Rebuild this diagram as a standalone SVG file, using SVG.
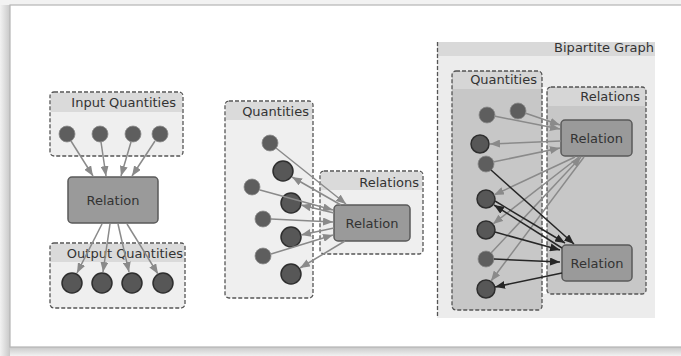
<svg xmlns="http://www.w3.org/2000/svg" width="681" height="356" viewBox="0 0 681 356">
<defs>
<style>
.lbl{font-family:"DejaVu Sans",sans-serif;font-size:13px;fill:#333}
.hdr{text-anchor:end}
.rel{text-anchor:middle}
.box{fill:#efefef;stroke:#555;stroke-width:1.3;stroke-dasharray:4 2}
.band{fill:#dadada}
.box3{fill:#c7c7c7;stroke:#555;stroke-width:1.3;stroke-dasharray:4 2}
.band3{fill:#d6d6d6}
.node{fill:#9a9a9a;stroke:#5a5a5a;stroke-width:1.5}
.qin{fill:#5e5e5e;stroke:#8a8a8a;stroke-width:0.8}
.qout{fill:#575757;stroke:#2e2e2e;stroke-width:1.5}
.ag{stroke:#8a8a8a;stroke-width:1.5;fill:none;marker-end:url(#mg)}
.ab{stroke:#262626;stroke-width:1.5;fill:none;marker-end:url(#mb)}
</style>
<marker id="mg" markerUnits="userSpaceOnUse" markerWidth="10" markerHeight="8" refX="10" refY="4" orient="auto"><path d="M0,0 L10,4 L0,8 Z" fill="#8a8a8a"/></marker>
<marker id="mb" markerUnits="userSpaceOnUse" markerWidth="10" markerHeight="8" refX="10" refY="4" orient="auto"><path d="M0,0 L10,4 L0,8 Z" fill="#262626"/></marker>
<linearGradient id="shb" x1="0" y1="0" x2="0" y2="1"><stop offset="0" stop-color="#c8c8c8"/><stop offset="1" stop-color="#f2f2f2"/></linearGradient>
<linearGradient id="shl" x1="1" y1="0" x2="0" y2="0"><stop offset="0" stop-color="#c8c8c8"/><stop offset="1" stop-color="#f2f2f2"/></linearGradient>
<clipPath id="bgclip"><rect x="437" y="42" width="218" height="276"/></clipPath>
</defs>

<!-- page & card -->
<rect x="0" y="0" width="681" height="356" fill="#f2f2f2"/>
<rect x="0" y="5" width="10" height="351" fill="url(#shl)"/>
<rect x="10" y="347" width="671" height="9" fill="url(#shb)"/>
<rect x="10" y="5" width="680" height="342" fill="#ffffff" stroke="#b5b5b5" stroke-width="1.2"/>

<!-- Panel 1 -->
<g id="input-quantities">
<rect class="box" x="50" y="92" width="133" height="64" rx="4"/>
<path class="band" d="M51,112 V96 Q51,93 54,93 H179 Q182,93 182,96 V112 Z"/>
<text class="lbl hdr" x="176" y="107">Input Quantities</text>
<circle class="qin" cx="67" cy="134" r="8"/>
<circle class="qin" cx="100" cy="134" r="8"/>
<circle class="qin" cx="133" cy="134" r="8"/>
<circle class="qin" cx="160" cy="134" r="8"/>
</g>
<g id="relation-1">
<rect class="node" x="68" y="177" width="90" height="46" rx="4"/>
<text class="lbl rel" x="113" y="204.5">Relation</text>
</g>
<g id="output-quantities">
<rect class="box" x="50" y="243" width="135" height="65" rx="4"/>
<path class="band" d="M51,262 V247 Q51,244 54,244 H181 Q184,244 184,247 V262 Z"/>
<text class="lbl hdr" x="183" y="258">Output Quantities</text>
<circle class="qout" cx="72" cy="283" r="10"/>
<circle class="qout" cx="102" cy="283" r="10"/>
<circle class="qout" cx="132" cy="283" r="10"/>
<circle class="qout" cx="163" cy="283" r="10"/>
</g>

<!-- Panel 2 -->
<g id="quantities-2">
<rect class="box" x="225" y="101" width="88" height="197" rx="4"/>
<path class="band" d="M226,120 V105 Q226,102 229,102 H309 Q312,102 312,105 V120 Z"/>
<text class="lbl hdr" x="309" y="116">Quantities</text>
<circle class="qin" cx="270" cy="143" r="8"/>
<circle class="qout" cx="283" cy="171" r="10"/>
<circle class="qin" cx="252" cy="187" r="8"/>
<circle class="qout" cx="291" cy="203" r="10"/>
<circle class="qin" cx="263" cy="219" r="8"/>
<circle class="qout" cx="291" cy="237" r="10"/>
<circle class="qin" cx="263" cy="256" r="8"/>
<circle class="qout" cx="291" cy="274" r="10"/>
</g>
<g id="relations-2">
<rect class="box" x="320" y="171" width="103" height="83" rx="4"/>
<path class="band" d="M321,190 V175 Q321,172 324,172 H419 Q422,172 422,175 V190 Z"/>
<text class="lbl hdr" x="419" y="187">Relations</text>
<rect class="node" x="334" y="205" width="76" height="36" rx="4"/>
<text class="lbl rel" x="372" y="227.5">Relation</text>
</g>

<!-- Panel 3 -->
<g id="bipartite-graph">
<rect x="437" y="42" width="218" height="276" fill="#ececec"/>
<rect x="437" y="42" width="218" height="14" fill="#d9d9d9"/>
<line x1="437.5" y1="42" x2="437.5" y2="318" stroke="#555" stroke-width="1.3" stroke-dasharray="4 2"/>
<text class="lbl hdr" x="654" y="52" clip-path="url(#bgclip)">Bipartite Graph</text>
</g>
<g id="quantities-3">
<rect class="box3" x="452" y="71" width="90" height="239" rx="4"/>
<path class="band3" d="M453,89 V75 Q453,72 456,72 H538 Q541,72 541,75 V89 Z"/>
<text class="lbl hdr" x="537" y="84">Quantities</text>
<circle class="qin" cx="487" cy="115" r="8"/>
<circle class="qin" cx="518" cy="111" r="8"/>
<circle class="qout" cx="480" cy="144" r="9"/>
<circle class="qin" cx="486" cy="164" r="8"/>
<circle class="qout" cx="486" cy="199" r="9"/>
<circle class="qout" cx="486" cy="230" r="9"/>
<circle class="qin" cx="486" cy="259" r="8"/>
<circle class="qout" cx="486" cy="289" r="9"/>
</g>
<rect x="543" y="87" width="3.5" height="207" fill="#ffffff"/>
<g id="relations-3">
<rect class="box3" x="547" y="87" width="99" height="207" rx="4"/>
<path class="band3" d="M548,106 V91 Q548,88 551,88 H642 Q645,88 645,91 V106 Z"/>
<text class="lbl hdr" x="640" y="101">Relations</text>
</g>
<g id="relation-3a">
<rect class="node" x="561" y="120" width="71" height="36" rx="4"/>
<text class="lbl rel" x="596.5" y="142.5">Relation</text>
</g>
<g id="relation-3b">
<rect class="node" x="562" y="245" width="70" height="36" rx="4"/>
<text class="lbl rel" x="597" y="267.5">Relation</text>
</g>

<!-- connectors -->
<g id="connectors">
<line class="ag" x1="71" y1="141" x2="93" y2="176"/>
<line class="ag" x1="101" y1="142" x2="106" y2="176"/>
<line class="ag" x1="131" y1="142" x2="121" y2="176"/>
<line class="ag" x1="155" y1="141" x2="132" y2="176"/>
<line class="ag" x1="102" y1="224" x2="77" y2="273"/>
<line class="ag" x1="110" y1="224" x2="103" y2="272"/>
<line class="ag" x1="118" y1="224" x2="129" y2="272"/>
<line class="ag" x1="127" y1="224" x2="158" y2="274"/>

<line class="ag" x1="276" y1="148" x2="346" y2="204"/>
<line class="ag" x1="341" y1="205" x2="292" y2="177"/>
<line class="ag" x1="260" y1="190" x2="333" y2="210"/>
<line class="ag" x1="334" y1="213" x2="301" y2="205"/>
<line class="ag" x1="271" y1="219" x2="333" y2="222"/>
<line class="ag" x1="334" y1="228" x2="301" y2="235"/>
<line class="ag" x1="271" y1="254" x2="333" y2="235"/>
<line class="ag" x1="345" y1="241" x2="300" y2="268"/>

<line class="ag" x1="494" y1="116" x2="560" y2="129"/>
<line class="ag" x1="525" y1="113" x2="560" y2="125"/>
<line class="ag" x1="561" y1="141" x2="490" y2="144"/>
<line class="ag" x1="493" y1="162" x2="560" y2="148"/>
<line class="ag" x1="575" y1="157" x2="494" y2="195"/>
<line class="ag" x1="579" y1="157" x2="493" y2="224"/>
<line class="ag" x1="491" y1="253" x2="581" y2="157"/>
<line class="ag" x1="584" y1="157" x2="491" y2="281"/>

<line class="ab" x1="491" y1="170" x2="574" y2="244"/>
<line class="ab" x1="495" y1="201" x2="565" y2="243"/>
<line class="ab" x1="562" y1="248" x2="494" y2="205"/>
<line class="ab" x1="495" y1="232" x2="560" y2="250"/>
<line class="ab" x1="494" y1="259" x2="560" y2="262"/>
<line class="ab" x1="562" y1="273" x2="495" y2="287"/>
</g>
</svg>
